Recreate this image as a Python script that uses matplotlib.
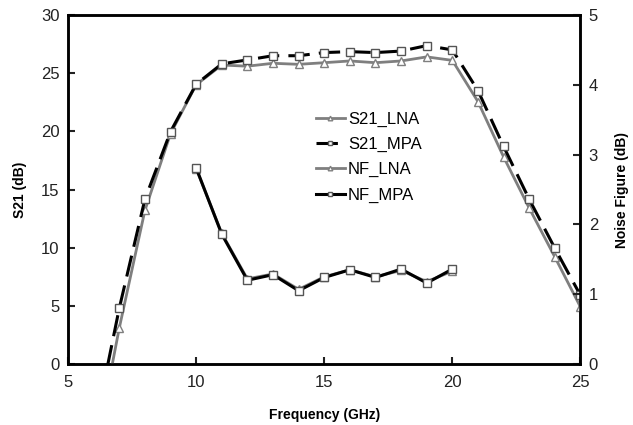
import matplotlib
matplotlib.use("Agg")
import matplotlib.pyplot as plt

plt.rcParams['font.family'] = ['Liberation Sans', 'DejaVu Sans']

freq_s21 = [6, 7, 8, 9, 10, 11, 12, 13, 14, 15, 16, 17, 18, 19, 20, 21, 22, 23, 24, 25]
s21_lna = [-8.3, 3.1, 13.2, 19.8, 24.0, 25.7, 25.6, 25.85, 25.76, 25.9, 26.05, 25.9, 26.05, 26.4, 26.1, 22.55, 17.8, 13.4, 9.2, 4.9]
s21_mpa = [-6.0, 4.8, 14.16, 19.97, 24.05, 25.8, 26.14, 26.5, 26.5, 26.77, 26.85, 26.77, 26.9, 27.37, 27.0, 23.5, 18.7, 14.16, 9.95, 5.9]

freq_nf = [10, 11, 12, 13, 14, 15, 16, 17, 18, 19, 20]
nf_lna = [2.80, 1.87, 1.22, 1.29, 1.07, 1.25, 1.35, 1.25, 1.34, 1.18, 1.33]
nf_mpa = [2.81, 1.86, 1.20, 1.28, 1.05, 1.24, 1.35, 1.24, 1.36, 1.16, 1.36]

fig = plt.figure(figsize=(6.33, 4.25), dpi=100)
ax = fig.add_axes([0.1075, 0.1435, 0.917 - 0.1075, 0.9647 - 0.1435])
ax2 = ax.twinx()

gray = '#7f7f7f'
l1, = ax.plot(freq_s21, s21_lna, color=gray, lw=2, marker='^', ms=5.5,
              mfc='white', mec=gray, mew=1, label='S21_LNA', zorder=3)
l2, = ax.plot(freq_s21, s21_mpa, color='black', lw=2.2, dashes=(7, 3), marker='s', ms=6,
              mfc='white', mec='#555555', mew=1, label='S21_MPA', zorder=4)
l3, = ax2.plot(freq_nf, nf_lna, color=gray, lw=2, marker='^', ms=5.5,
               mfc='white', mec=gray, mew=1, label='NF_LNA', zorder=3)
l4, = ax2.plot(freq_nf, nf_mpa, color='black', lw=2.2, marker='s', ms=6,
               mfc='white', mec='#555555', mew=1, label='NF_MPA', zorder=4)

ax.set_xlim(5, 25)
ax.set_ylim(0, 30)
ax2.set_ylim(0, 5)
ax.set_xticks([5, 10, 15, 20, 25])
ax.set_yticks([0, 5, 10, 15, 20, 25, 30])
ax2.set_yticks([0, 1, 2, 3, 4, 5])

for a in (ax, ax2):
    a.tick_params(direction='in', length=5, width=1.5, labelsize=12, colors='#222222')
    for s in a.spines.values():
        s.set_linewidth(1.8)
ax.tick_params(axis='x', pad=8)
ax.tick_params(axis='y', pad=6)
ax2.tick_params(axis='y', pad=6)

ax.set_xlabel('Frequency (GHz)', fontsize=10, fontweight='bold', labelpad=13)
ax.set_ylabel('S21 (dB)', fontsize=10, fontweight='bold', labelpad=10)
ax2.set_ylabel('Noise Figure (dB)', fontsize=10, fontweight='bold', labelpad=12)

leg = ax.legend(handles=[l1, l2, l3, l4], loc='upper left', bbox_to_anchor=(0.455, 0.765),
                frameon=False, fontsize=12, handlelength=1.7, handletextpad=0.2,
                labelspacing=0.6, markerscale=0.6)

fig.savefig('out.png', dpi=100)
